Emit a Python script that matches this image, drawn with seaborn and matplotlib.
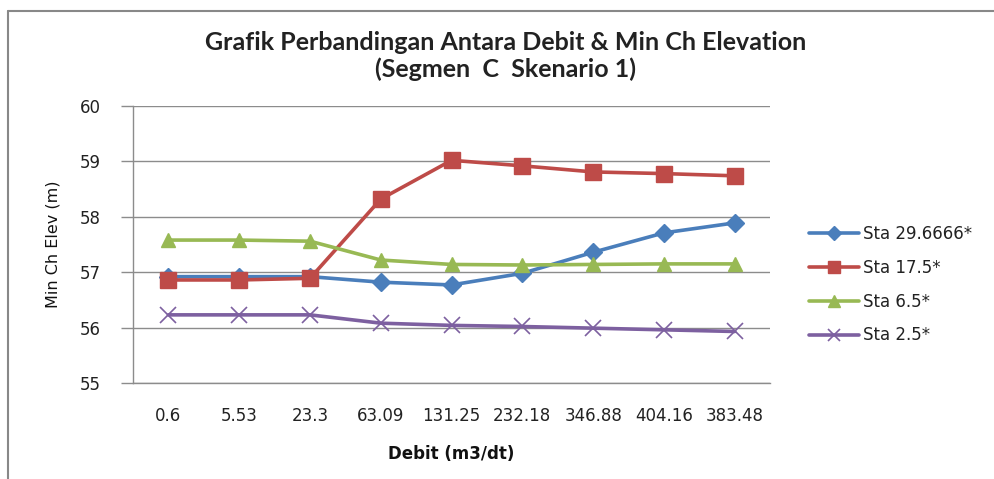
import matplotlib
matplotlib.use("Agg")
import matplotlib.pyplot as plt
from matplotlib.lines import Line2D
import seaborn as sns
import pandas as pd

debit = ["0.6", "5.53", "23.3", "63.09", "131.25", "232.18", "346.88", "404.16", "383.48"]
sta_29 = [56.92, 56.92, 56.92, 56.82, 56.77, 56.98, 57.36, 57.71, 57.89]
sta_17 = [56.86, 56.86, 56.89, 58.32, 59.02, 58.92, 58.81, 58.78, 58.74]
sta_6 = [57.58, 57.58, 57.56, 57.22, 57.14, 57.13, 57.14, 57.15, 57.15]
sta_2 = [56.23, 56.23, 56.23, 56.08, 56.04, 56.02, 55.99, 55.96, 55.93]
series_names = ["Sta 29.6666*", "Sta 17.5*", "Sta 6.5*", "Sta 2.5*"]
colors = ["#4A7EBB", "#BE4B48", "#98B954", "#7D60A0"]
markers = ["D", "s", "^", "x"]
msizes = [9, 11, 10, 11]

rows = []
for name, vals in zip(series_names, [sta_29, sta_17, sta_6, sta_2]):
    for d, v in zip(debit, vals):
        rows.append({"Debit": d, "Elev": v, "Series": name})
df = pd.DataFrame(rows)

sns.set_style("white")
plt.rcParams["font.family"] = ["DejaVu Sans"]

fig = plt.figure(figsize=(9.95, 4.79), dpi=100)
ax = fig.add_axes([0.1337, 0.2004, 0.6403, 0.5783])

for name, c, m, ms in zip(series_names, colors, markers, msizes):
    sub = df[df["Series"] == name]
    sns.lineplot(data=sub, x="Debit", y="Elev", ax=ax, color=c, linewidth=2.6,
                 marker=m, markersize=ms, markeredgecolor=c,
                 markeredgewidth=1.0 if m != "x" else 1.2,
                 sort=False, label=name, zorder=3)

ax.set_xlim(-0.5, 8.5)
ax.set_ylim(55, 60)
ax.set_yticks([55, 56, 57, 58, 59, 60])
ax.grid(axis="y", color="#8c8c8c", linewidth=1.0)
ax.grid(axis="x", visible=False)
for s in ["top", "right"]:
    ax.spines[s].set_visible(False)
for s in ["left", "bottom"]:
    ax.spines[s].set_color("#8c8c8c")
    ax.spines[s].set_linewidth(1.0)
ax.tick_params(axis="y", which="major", left=True, length=9, width=1.0,
               color="#8c8c8c", labelsize=12, pad=14, labelcolor="#222222")
ax.tick_params(axis="x", bottom=False, labelsize=12, pad=14, labelcolor="#222222")

ax.set_xlabel("Debit (m3/dt)", fontsize=12, fontweight="bold", labelpad=14,
              color="#111111")
ax.set_ylabel("Min Ch Elev (m)", fontsize=11.5, labelpad=14, color="#111111")

fig.text(0.508, 0.912, "Grafik Perbandingan Antara Debit & Min Ch Elevation",
         ha="center", va="center", fontsize=18, fontweight="bold",
         family=["Lato", "DejaVu Sans"], color="#222222")
fig.text(0.508, 0.855, "(Segmen  C  Skenario 1)", ha="center", va="center",
         fontsize=18, fontweight="bold", family=["Lato", "DejaVu Sans"],
         color="#222222")

leg = ax.legend(loc="center left", bbox_to_anchor=(1.05, 0.355), frameon=False,
                fontsize=12, handlelength=3.0, labelspacing=0.95,
                handletextpad=0.25, borderaxespad=0, markerscale=0.8)
for t in leg.get_texts():
    t.set_color("#222222")

# outer chart border (partially visible in reference)
fig.add_artist(Line2D([8 / 995, 8 / 995], [0, 1 - 11 / 479],
                      transform=fig.transFigure, color="#888888", linewidth=1.5))
fig.add_artist(Line2D([8 / 995, 1], [1 - 11 / 479, 1 - 11 / 479],
                      transform=fig.transFigure, color="#888888", linewidth=1.5))

fig.savefig("out.png", dpi=100)
